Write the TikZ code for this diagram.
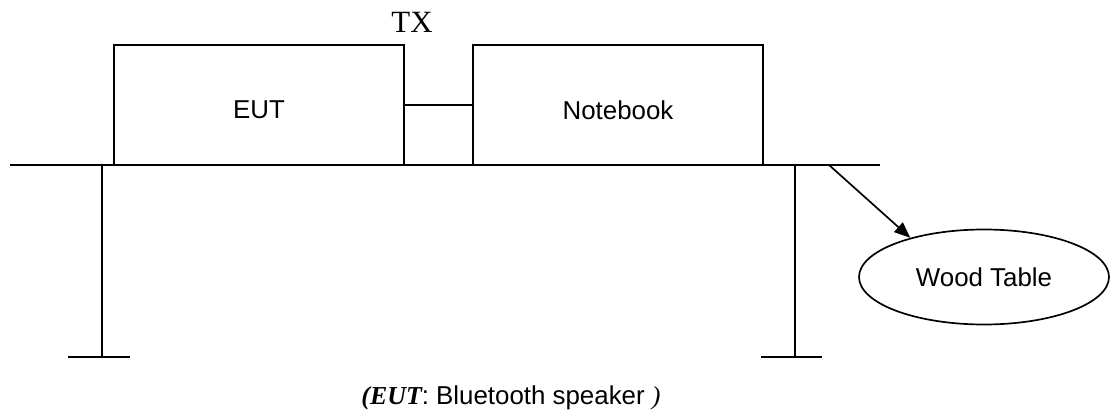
\documentclass[tikz,border=0pt]{standalone}
\usepackage{fontspec}
\setmainfont{Liberation Sans}
\newfontfamily\timesfont{Liberation Serif}
\usetikzlibrary{shapes,arrows.meta}

\tikzset{
    boxtext/.style = {font=\fontsize{18.4}{22}\selectfont},
    leg/.style = {line width=1.2pt}
}

\begin{document}
\begin{tikzpicture}[>={Triangle[length=0.4cm,width=0.32cm]}, line width=1.2pt]

    \useasboundingbox (0,0) rectangle (27.825,-10.4);

    % table top
    \coordinate (TopL) at (0.25,-4.125);
    \coordinate (TopR) at (22,-4.125);
    \draw (TopL) -- (TopR);

    % table legs
    \coordinate (LegL) at (2.55,-4.125);
    \coordinate (FootL) at (2.55,-8.925);
    \coordinate (FootLa) at (1.7,-8.925);
    \coordinate (FootLb) at (3.25,-8.925);
    \draw[leg] (LegL) -- (FootL);
    \draw[leg] (FootLa) -- (FootLb);

    \coordinate (LegR) at (19.875,-4.125);
    \coordinate (FootR) at (19.875,-8.925);
    \coordinate (FootRa) at (19.025,-8.925);
    \coordinate (FootRb) at (20.55,-8.925);
    \draw[leg] (LegR) -- (FootR);
    \draw[leg] (FootRa) -- (FootRb);

    \node[rectangle,
          draw,
          minimum width = 7.25cm,
          minimum height = 3cm] (EUT) at (6.475,-2.625) {};
    \node[boxtext] at ([yshift=-0.13cm]EUT.center) {EUT};

    \node[rectangle,
          draw,
          minimum width = 7.25cm,
          minimum height = 3cm] (Notebook) at (15.45,-2.625) {};
    \node[boxtext] at ([yshift=-0.13cm]Notebook.center) {Notebook};

    \draw (EUT) -- (Notebook);

    \node[font=\timesfont\fontsize{22}{26}\selectfont] (TX) at (10.3,-0.55) {TX};

    \node[ellipse,
          draw,
          boxtext,
          inner sep = 0pt,
          minimum width = 6.25cm,
          minimum height = 2.375cm] (WT) at (24.6,-6.925) {Wood Table};

    \coordinate (ArrowS) at (20.725,-4.125);
    \draw[->] (ArrowS) -- (WT.152);

    \node[boxtext] (Caption) at (12.775,-9.95)
        {{\timesfont\bfseries\itshape (EUT}: Bluetooth speaker {\timesfont\itshape )}};

\end{tikzpicture}
\end{document}
